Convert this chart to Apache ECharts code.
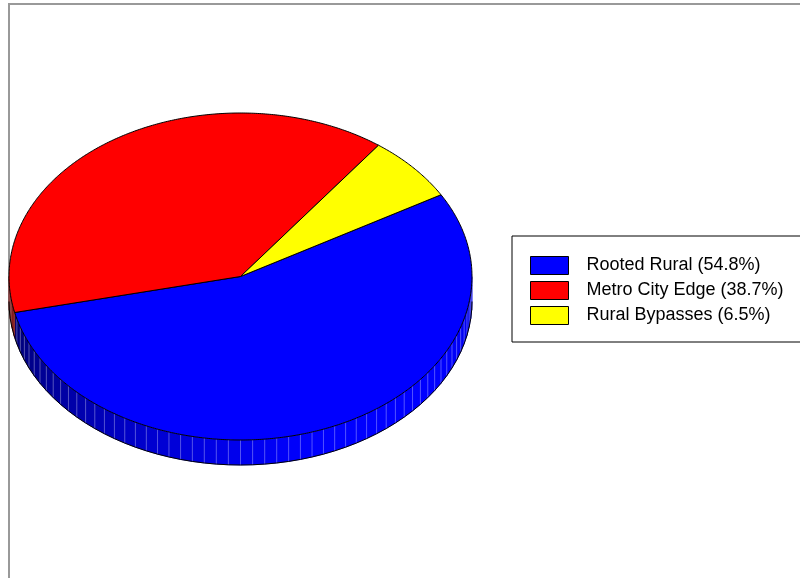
<!DOCTYPE html>
<html>
<head>
<meta charset="utf-8">
<script src="https://cdn.jsdelivr.net/npm/echarts@6/dist/echarts.min.js"></script>
<style>
  html, body { margin: 0; padding: 0; background: #fff; }
  #chart { width: 800px; height: 578px; }
</style>
</head>
<body>
<div id="chart"></div>
<script>
// Slice names and their shares (percent)
const categories = ['Rooted Rural', 'Metro City Edge', 'Rural Bypasses'];
const shares = [54.8, 38.7, 6.5];
const palette = ['#0000ff', '#ff0000', '#ffff00'];

// Tilted-disc geometry (pixels) and start angle (degrees, clockwise on screen)
const CX = 240.5, CY = 276.5, RX = 231.5, RY = 163.5, DEPTH = 25;
const START = -30;
const FACET = 3;

const total = shares.reduce((a, b) => a + b, 0);
function sliceRange(i) {
  let before = 0;
  for (let k = 0; k < i; k++) before += shares[k];
  const a = START + before / total * 360;
  return [a, a + shares[i] / total * 360];
}
const rad = d => d * Math.PI / 180;
const px = t => CX + RX * Math.cos(rad(t));
const py = t => CY + RY * Math.sin(rad(t));

function hexToRgb(h) {
  return [parseInt(h.slice(1, 3), 16), parseInt(h.slice(3, 5), 16), parseInt(h.slice(5, 7), 16)];
}
function shade(hex, f, white) {
  const c = hexToRgb(hex).map(v => v * f);
  const m = c.map(v => Math.round(v + (255 - v) * (white || 0)));
  return 'rgb(' + m.map(v => Math.max(0, Math.min(255, v))).join(',') + ')';
}
// side brightness as the rim turns away from the light
function rimFactor(t) {
  return Math.min(1, 0.64 + 0.38 * Math.cos(rad(t - 50)));
}

// Front rim of one slice: faceted band below the visible half of the edge
function renderSide(params, api) {
  const i = api.value(1);
  const base = palette[i];
  const [a, b] = sliceRange(i);
  const children = [];
  [[0, 180], [360, 540], [-360, -180]].forEach(([lo0, hi0]) => {
    const lo = Math.max(a, lo0), hi = Math.min(b, hi0);
    if (hi <= lo) return;
    const stops = [lo];
    for (let t = Math.ceil(lo / FACET) * FACET; t < hi; t += FACET) {
      if (t > lo + 1e-6) stops.push(t);
    }
    stops.push(hi);
    for (let k = 0; k < stops.length - 1; k++) {
      const t1 = stops[k], t2 = stops[k + 1];
      const col = shade(base, rimFactor((t1 + t2) / 2), 0);
      children.push({
        type: 'polygon',
        shape: { points: [[px(t1), py(t1)], [px(t2), py(t2)], [px(t2), py(t2) + DEPTH], [px(t1), py(t1) + DEPTH]] },
        style: { fill: col, stroke: col, lineWidth: 0.6 }
      });
    }
    for (let k = 1; k < stops.length - 1; k++) {
      const t = stops[k];
      children.push({
        type: 'line',
        shape: { x1: px(t), y1: py(t), x2: px(t), y2: py(t) + DEPTH },
        style: { stroke: shade(base, rimFactor(t), 0.32), lineWidth: 1 }
      });
    }
    const bottom = [];
    for (let k = 0; k < stops.length; k++) bottom.push([px(stops[k]), py(stops[k]) + DEPTH]);
    children.push({ type: 'polyline', shape: { points: bottom }, style: { stroke: '#000', lineWidth: 1, fill: null } });
  });
  return { type: 'group', children };
}

// Top face of one slice
function makeTopRenderer(i) {
  return function (params, api) {
    const [a, b] = sliceRange(i);
    const pts = [[CX, CY]];
    const n = Math.max(8, Math.ceil((b - a) / 0.5));
    for (let k = 0; k <= n; k++) {
      const t = a + (b - a) * k / n;
      pts.push([px(t), py(t)]);
    }
    return {
      type: 'polygon',
      shape: { points: pts },
      style: { fill: api.visual('color'), stroke: '#000', lineWidth: 1, lineJoin: 'round' }
    };
  };
}

const series = [{
  type: 'custom',
  name: 'rim',
  coordinateSystem: 'none',
  silent: true,
  z: 1,
  data: shares.map((v, i) => [v, i]),
  renderItem: renderSide
}];
categories.forEach((name, i) => {
  series.push({
    type: 'custom',
    name: name,
    coordinateSystem: 'none',
    silent: true,
    z: 3,
    itemStyle: { color: palette[i] },
    data: [[shares[i], i]],
    renderItem: makeTopRenderer(i)
  });
});

const chart = echarts.init(document.getElementById('chart'), null, { renderer: 'canvas' });
chart.setOption({
  backgroundColor: '#fff',
  animation: false,
  legend: {
    orient: 'vertical',
    left: 512,
    top: 236,
    data: categories,
    selectedMode: false,
    backgroundColor: '#fff',
    borderColor: '#000',
    borderWidth: 1,
    padding: [20, 60, 17, 18],
    itemWidth: 38,
    itemHeight: 18,
    itemGap: 6,
    icon: 'rect',
    itemStyle: { borderColor: '#000', borderWidth: 1 },
    textStyle: { fontFamily: '"Liberation Sans", Arial, sans-serif', fontSize: 18, color: '#000', padding: [0, 0, 0, 13] },
    formatter: name => name + ' (' + shares[categories.indexOf(name)].toFixed(1) + '%)'
  },
  graphic: [{
    type: 'rect',
    z: 0,
    shape: { x: 9, y: 4, width: 900, height: 900 },
    style: { fill: null, stroke: '#999', lineWidth: 2 }
  }],
  series: series
});
</script>
</body>
</html>
